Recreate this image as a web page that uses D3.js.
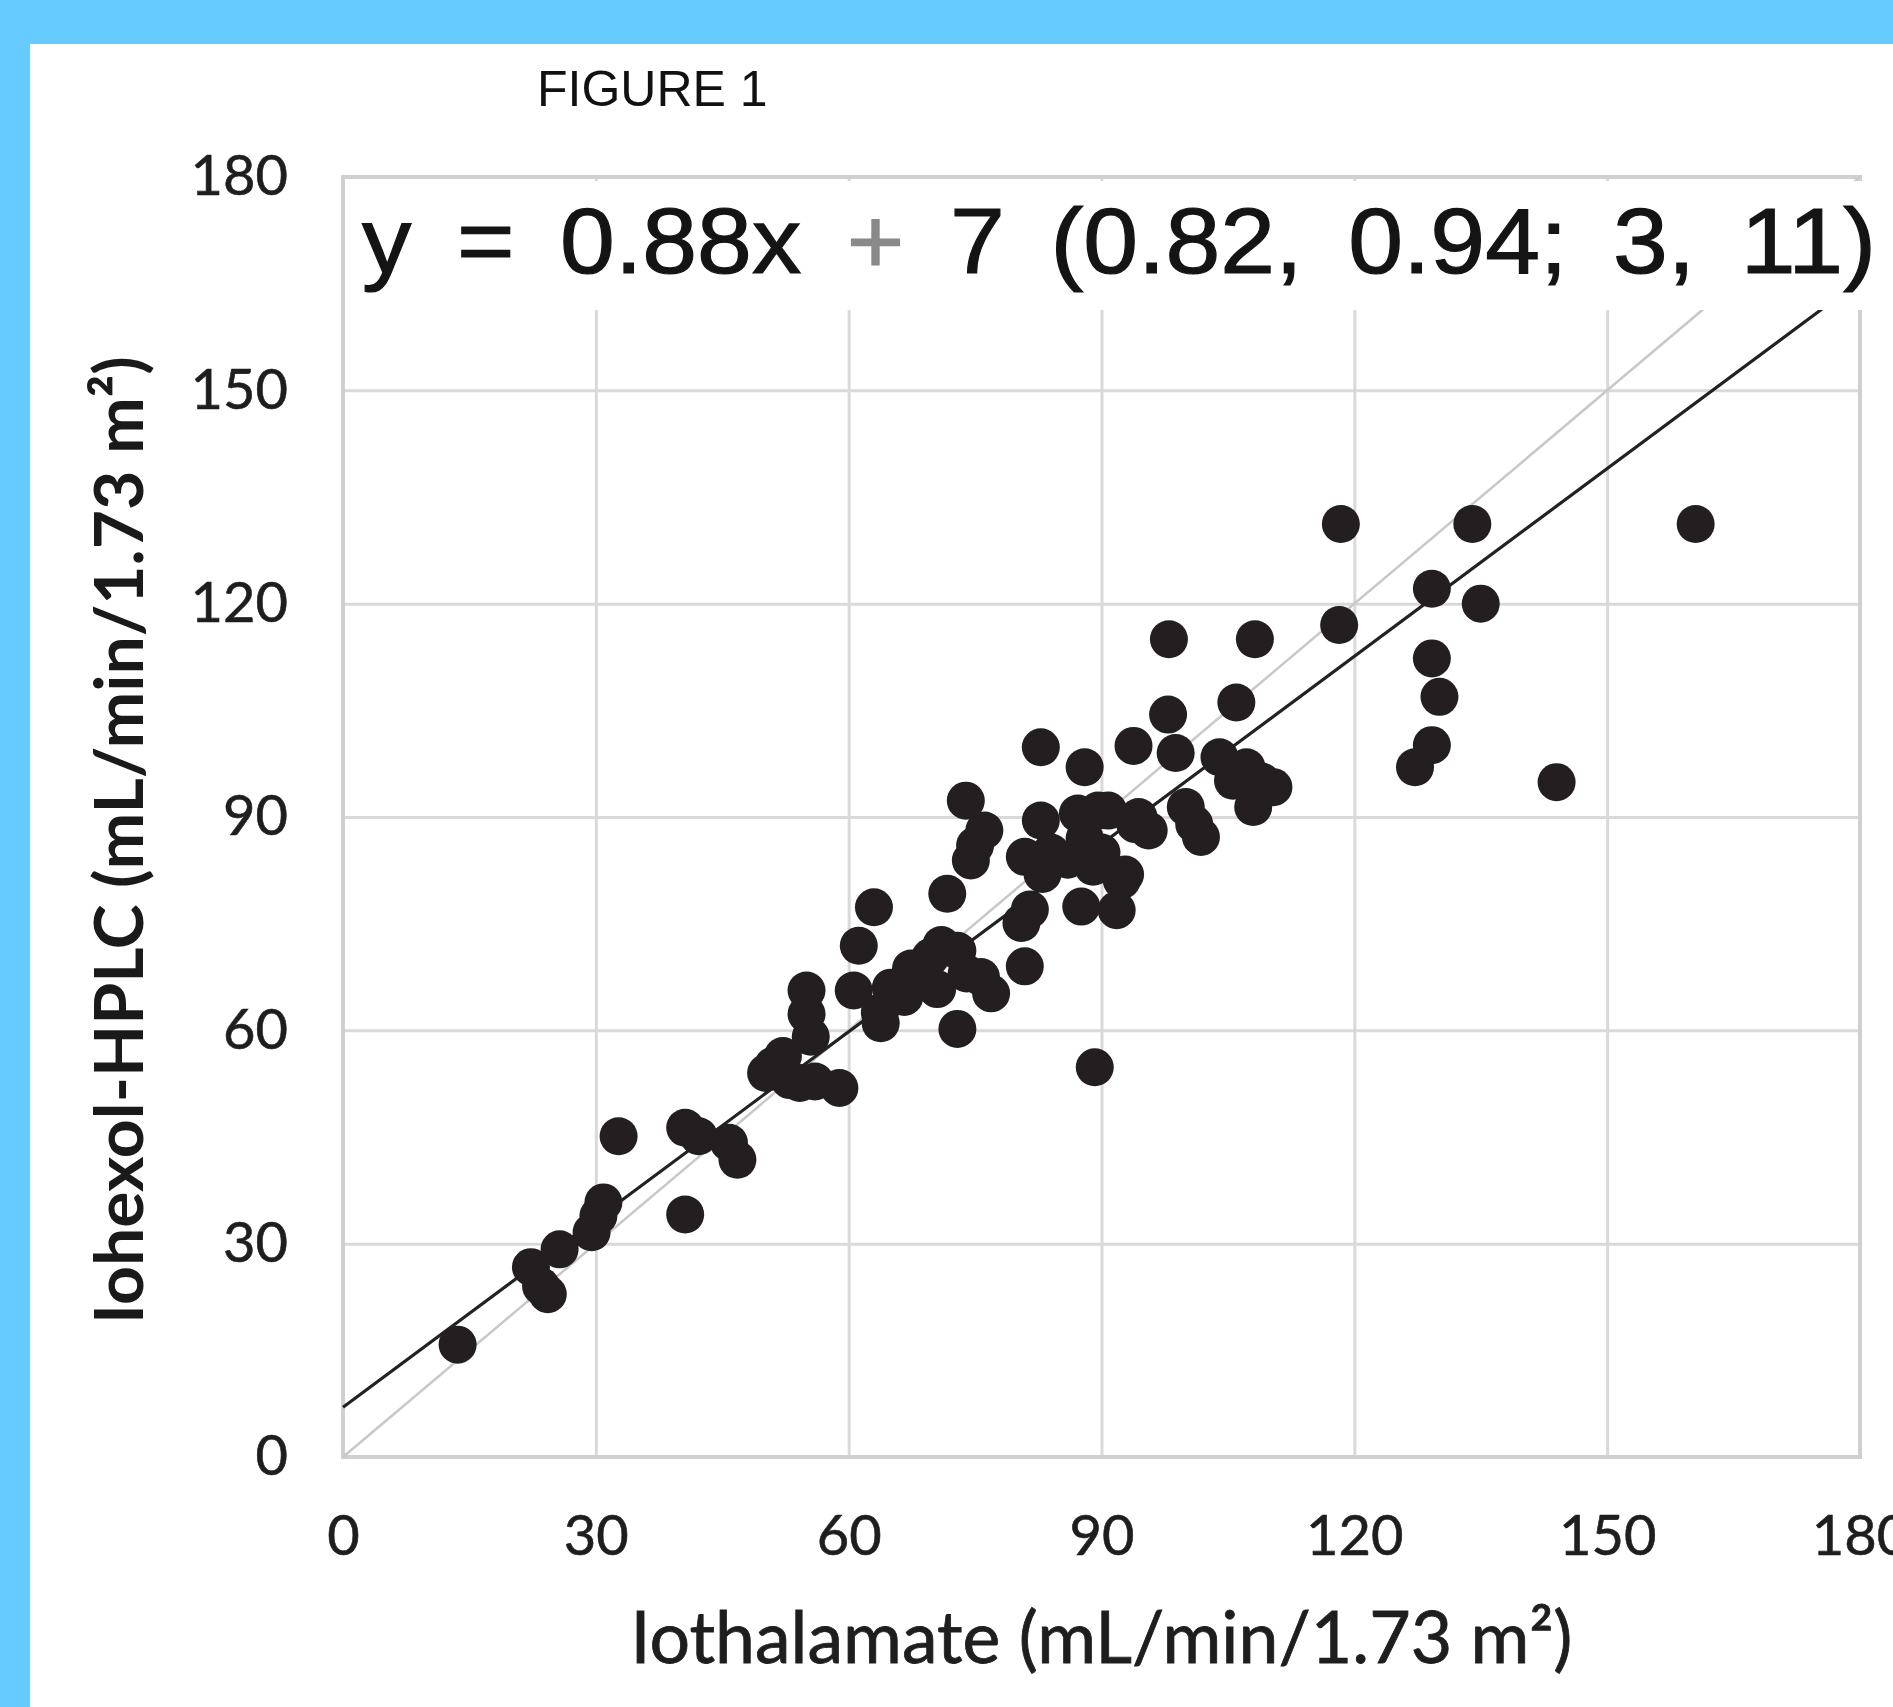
<!DOCTYPE html>
<html>
<head>
<meta charset="utf-8">
<script src="https://cdn.jsdelivr.net/npm/d3@7"></script>
<style>
  body { margin: 0; background: #fff; }
  svg { display: block; }
</style>
</head>
<body>
<svg id="chart" width="1893" height="1707"></svg>
<script>
// tick values for both axes
var xTicks = [0, 30, 60, 90, 120, 150, 180];
var yTicks = [0, 30, 60, 90, 120, 150, 180];

// GFR by iothalamate (x) and by iohexol-HPLC (y), one pair per subject
var iothalamate = [13.6, 22.3, 24.3, 23.5, 25.7, 29.5, 30.3, 30.9, 32.7, 40.6, 40.6, 42.2, 45.8, 46.8,
  50.2, 51.0, 52.2, 53.0, 54.2, 56.0, 58.9, 55.5, 55.0, 55.0, 60.6, 61.2, 63.0, 63.8, 63.7, 65.0,
  66.6, 67.4, 68.0, 69.7, 70.5, 71.0, 72.9, 72.9, 74.0, 75.7, 76.9, 71.7, 74.5, 75.0, 76.1, 73.9,
  80.5, 80.9, 81.5, 80.9, 83.0, 84.0, 82.8, 82.8, 86.0, 87.6, 88.0, 89.0, 90.0, 88.0, 89.2, 89.6,
  90.8, 92.4, 91.8, 92.8, 93.8, 94.0, 95.6, 87.2, 94.4, 97.9, 98.0, 98.8, 100.0, 101.0, 101.8, 104.0,
  105.6, 106.0, 107.2, 108.0, 109.0, 110.4, 108.2, 118.2, 118.4, 127.2, 129.2, 129.2, 130.1, 129.2,
  134.0, 135.0, 144.0, 160.5];
var iohexol = [15.8, 26.7, 22.9, 24.0, 29.2, 31.6, 33.9, 35.8, 45.1, 34.1, 46.3, 45.1, 44.2, 41.8,
  54.0, 55.0, 56.4, 53.0, 52.6, 52.8, 51.9, 59.1, 62.3, 65.6, 65.6, 71.9, 77.3, 61.0, 62.5, 66.0,
  64.7, 68.7, 67.0, 70.3, 65.8, 72.0, 71.2, 60.2, 68.0, 67.5, 65.2, 79.2, 83.9, 86.0, 88.1, 92.3,
  75.1, 69.0, 77.0, 84.4, 82.0, 85.0, 89.5, 99.8, 84.0, 77.4, 87.0, 83.0, 85.0, 97.0, 54.8, 90.9,
  90.9, 81.1, 76.9, 81.9, 100.0, 89.0, 88.1, 90.5, 90.0, 104.4, 115.0, 99.0, 91.4, 89.0, 87.2, 98.4,
  95.1, 106.1, 97.0, 91.4, 95.0, 94.2, 115.0, 117.0, 131.2, 97.0, 100.1, 112.3, 106.9, 122.1,
  131.2, 120.0, 94.9, 131.2];

// fitted line and the line of identity
var slope = 0.88, intercept = 7;
var fitRange = [0, 180];
var eqLeft = "y = 0.88x ", eqPlus = "+", eqRight = " 7 (0.82, 0.94; 3, 11)";

var xTitle = "Iothalamate (mL/min/1.73 m\u00B2)";
var yTitle = "Iohexol-HPLC (mL/min/1.73 m\u00B2)";

var W = 1893, H = 1707;
var svg = d3.select("#chart");

// light blue frame on top and left
svg.append("rect").attr("width", W).attr("height", H).attr("fill", "#66cbff");
svg.append("rect").attr("x", 30).attr("y", 44).attr("width", W - 30).attr("height", H - 44).attr("fill", "#fff");

svg.append("text")
  .attr("x", 537).attr("y", 106)
  .style("font-family", "'Liberation Sans', Arial, sans-serif")
  .style("font-size", "50px")
  .attr("fill", "#111")
  .text("FIGURE 1");

var x = d3.scaleLinear().domain([0, 180]).range([343, 1860]);
var y = d3.scaleLinear().domain([0, 180]).range([1457, 177]);

var gridColor = "#d9d9d9";

var gx = svg.append("g")
  .attr("transform", "translate(0," + y(0) + ")")
  .call(d3.axisBottom(x).tickValues(xTicks).tickSize(-(y(0) - y(180))).tickPadding(58));
var gy = svg.append("g")
  .attr("transform", "translate(" + x(0) + ",0)")
  .call(d3.axisLeft(y).tickValues(yTicks).tickSize(-(x(180) - x(0))).tickPadding(55));

[gx, gy].forEach(function(g) {
  g.select(".domain").remove();
  g.selectAll(".tick line").attr("stroke", gridColor).attr("stroke-width", 3);
  g.selectAll(".tick text")
    .attr("fill", "#1e1e1e")
    .attr("stroke", "#1e1e1e").attr("stroke-width", 0.6)
    .style("font-family", "Lato, 'Open Sans', sans-serif")
    .style("font-size", "56px");
});

// plot border
svg.append("rect")
  .attr("x", x(0)).attr("y", y(180))
  .attr("width", x(180) - x(0)).attr("height", y(0) - y(180))
  .attr("fill", "none").attr("stroke", "#d0d0d0").attr("stroke-width", 4);

svg.append("line")
  .attr("x1", x(0)).attr("y1", y(0)).attr("x2", x(180)).attr("y2", y(180))
  .attr("stroke", "#c8c8c8").attr("stroke-width", 2.5);

svg.append("line")
  .attr("x1", x(fitRange[0])).attr("y1", y(slope * fitRange[0] + intercept))
  .attr("x2", x(fitRange[1])).attr("y2", y(slope * fitRange[1] + intercept))
  .attr("stroke", "#222").attr("stroke-width", 3.2);

svg.append("g").selectAll("circle")
  .data(iothalamate)
  .join("circle")
  .attr("cx", function(d) { return x(d); })
  .attr("cy", function(d, i) { return y(iohexol[i]); })
  .attr("r", 19)
  .attr("fill", "#231f20");

// white label box over the top of the plot
svg.append("rect")
  .attr("x", 345).attr("y", 181).attr("width", W - 345).attr("height", 129)
  .attr("fill", "#fff");

// equation, slightly widened glyphs like the original
var stretch = 1.06;
var eq = svg.append("text")
  .attr("transform", "translate(362,273) scale(" + stretch + ",1)")
  .style("font-family", "'Liberation Sans', Arial, sans-serif")
  .style("font-size", "93px")
  .style("white-space", "pre")
  .attr("fill", "#141414")
  .attr("stroke", "#141414").attr("stroke-width", 1.2);
eq.append("tspan").text(eqLeft);
eq.append("tspan").attr("fill", "#8a8a8a").attr("stroke", "#8a8a8a").text(eqPlus);
eq.append("tspan").text(eqRight);
var eqLen = eq.node().getComputedTextLength();
var nSpaces = (eqLeft + eqPlus + eqRight).split(" ").length - 1;
eq.style("word-spacing", ((1514 / stretch - eqLen) / nSpaces) + "px");

// fit a text element to a target length by adjusting font size
function fitText(sel, target) {
  var fs = parseFloat(sel.style("font-size"));
  var len = sel.node().getComputedTextLength();
  sel.style("font-size", (fs * target / len) + "px");
}

var xt = svg.append("text")
  .attr("x", (x(0) + x(180)) / 2).attr("y", 1663)
  .attr("text-anchor", "middle")
  .attr("fill", "#1e1e1e")
  .attr("stroke", "#1e1e1e").attr("stroke-width", 0.8)
  .style("font-family", "Lato, 'Open Sans', sans-serif")
  .style("font-size", "64px")
  .text(xTitle);
fitText(xt, 942);

var yt = svg.append("text")
  .attr("transform", "translate(143,840) rotate(-90)")
  .attr("text-anchor", "middle")
  .attr("fill", "#1a1a1a")
  .style("font-family", "Lato, 'Open Sans', sans-serif")
  .style("font-weight", "bold")
  .style("font-size", "64px")
  .text(yTitle);
fitText(yt, 968);
</script>
</body>
</html>
